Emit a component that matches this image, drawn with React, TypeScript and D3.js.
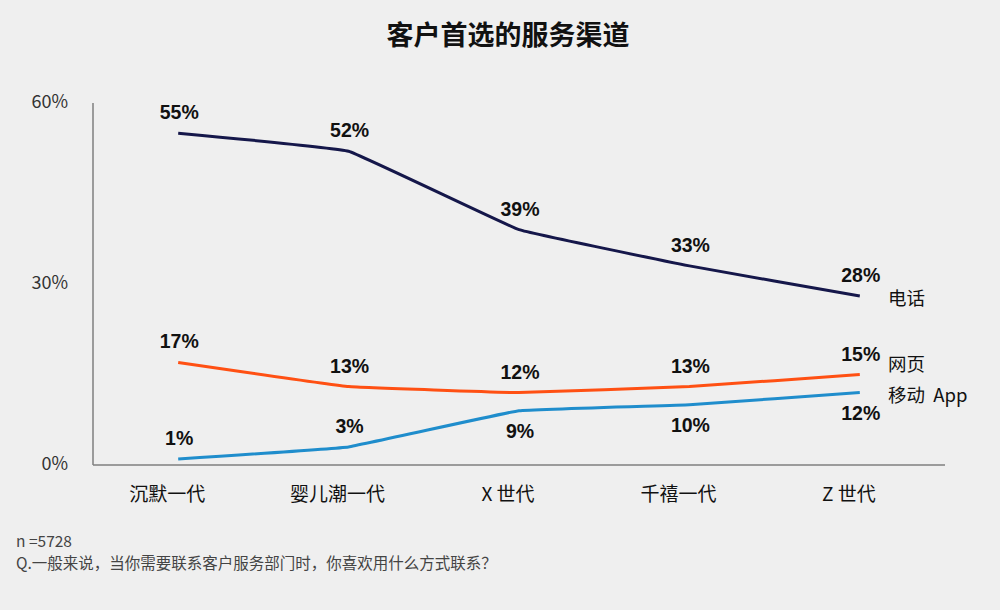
import React from 'react';
import * as d3 from 'd3';

const categories = ['沉默一代', '婴儿潮一代', 'X 世代', '千禧一代', 'Z 世代'];
const phone = [55, 52, 39, 33, 28];
const web = [17, 13, 12, 13, 15];
const app = [1, 3, 9, 10, 12];
const yTicks = [0, 30, 60];

const W = 1000;
const H = 610;
const margin = { top: 103, right: 55, bottom: 145, left: 93 };

const series = [
  { name: '电话', values: phone, color: '#15174a', legendDy: 9 },
  { name: '网页', values: web, color: '#ff5013', legendDy: -4 },
  { name: '移动\u00a0\u00a0App', values: app, color: '#1f8dcc', legendDy: 9 },
];

export default function App() {
  const innerW = W - margin.left - margin.right;
  const innerH = H - margin.top - margin.bottom;

  const x = d3.scaleBand<string>().domain(categories).range([0, innerW]).padding(0);
  const y = d3.scaleLinear().domain([0, 60]).range([innerH, 0]);
  const cx = (c: string) => (x(c) || 0) + x.bandwidth() / 2;

  // nearly straight segments with slightly rounded joints
  const line = d3
    .line<number>()
    .x((_, i) => cx(categories[i]))
    .y((d) => y(d))
    .curve(d3.curveCardinal.tension(0.8));

  const font = 'Arial, "Liberation Sans", "Noto Sans CJK SC", sans-serif';
  const cjk = '"Noto Sans CJK SC", "Microsoft YaHei", sans-serif';

  return (
    <svg width={W} height={H} style={{ display: 'block', position: 'absolute', left: 0, top: 0 }}>
      <rect width={W} height={H} fill="#efefef" />
      <text x={508} y={45} textAnchor="middle" fontFamily={cjk} fontWeight="bold" fontSize={27} fill="#111">
        客户首选的服务渠道
      </text>
      <g transform={`translate(${margin.left},${margin.top})`}>
        {/* axes */}
        <line x1={0} x2={0} y1={0} y2={innerH} stroke="#7f7f7f" strokeWidth={1.5} />
        <line x1={0} x2={innerW} y1={innerH} y2={innerH} stroke="#7f7f7f" strokeWidth={1.5} />
        {yTicks.map((t) => (
          <text key={t} x={-25} y={y(t)} dy="0.3em" textAnchor="end" fontFamily={cjk} fontSize={18} fill="#333">
            {t}%
          </text>
        ))}
        {categories.map((c) => (
          <text key={c} x={cx(c) - 11} y={innerH + 36} textAnchor="middle" fontFamily={cjk} fontSize={19} fill="#111">
            {c}
          </text>
        ))}
        {series.map((s) => (
          <g key={s.name}>
            <path d={line(s.values) || ''} fill="none" stroke={s.color} strokeWidth={3} />
            {s.values.map((v, i) => {
              const below = s.values === app && i >= 2;
              return (
                <text
                  key={i}
                  x={cx(categories[i]) + 1}
                  y={y(v) + (below ? 27 : -14)}
                  textAnchor="middle"
                  fontFamily={font}
                  fontWeight="bold"
                  fontSize={19.5}
                  fill="#111"
                >
                  {v}%
                </text>
              );
            })}
            <text
              x={innerW - 57}
              y={y(s.values[s.values.length - 1]) + s.legendDy}
              fontFamily={cjk}
              fontSize={18.5}
              fill="#111"
            >
              {s.name}
            </text>
          </g>
        ))}
      </g>
      <text x={16} y={547} fontFamily={cjk} fontSize={15.5} fill="#444">
        n =5728
      </text>
      <text x={16} y={569} fontFamily={cjk} fontSize={15.5} fill="#444">
        Q.一般来说，当你需要联系客户服务部门时，你喜欢用什么方式联系？
      </text>
    </svg>
  );
}
